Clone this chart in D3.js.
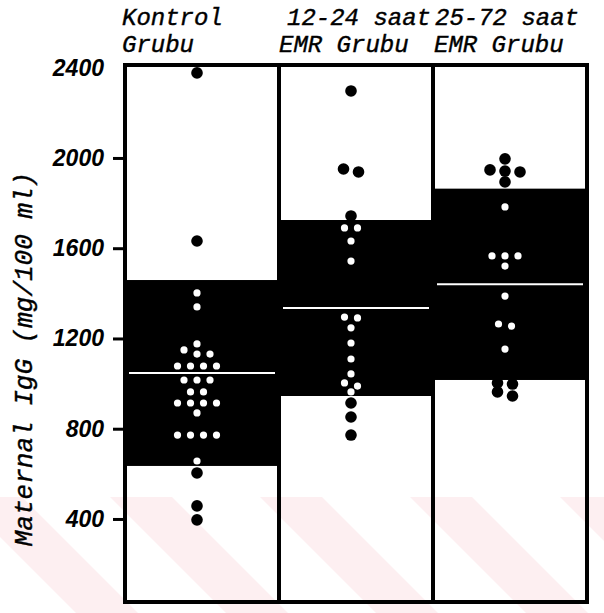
<!DOCTYPE html>
<html>
<head>
<meta charset="utf-8">
<script src="https://cdn.jsdelivr.net/npm/d3@7"></script>
<style>
  body { margin: 0; background: #fff; }
  svg { display: block; }
</style>
</head>
<body>
<div id="chart"></div>
<script>
// groups and header text
const groups = ["Kontrol Grubu", "12-24 saat EMR Grubu", "25-72 saat EMR Grubu"];
const headLine1 = ["Kontrol", "12-24 saat", "25-72 saat"];
const headLine2 = ["Grubu", "EMR Grubu", "EMR Grubu"];

// mean and standard deviation per group (mg/100 ml)
const means = [1047, 1335, 1440];
const sds = [412, 390, 424];

// individual values
const kontrol = [2377, 1632, 1402, 1340, 1176, 1149, 1131, 1131, 1078, 1078, 1078, 1078,
  1016, 1016, 1016, 963, 963, 914, 914, 914, 914, 870, 772, 772, 772, 772, 657, 604, 458, 396];
const emr1224 = [2297, 1951, 1938, 1743, 1690, 1690, 1632, 1543, 1295, 1291, 1247, 1180,
  1109, 1043, 1003, 989, 963, 914, 852, 772];
const emr2572 = [1996, 1947, 1942, 1938, 1894, 1783, 1566, 1566, 1566, 1521, 1388, 1264,
  1255, 1153, 1003, 998, 963, 945];
const values = [kontrol, emr1224, emr2572];

const yTicks = [400, 800, 1200, 1600, 2000, 2400];

const width = 604, height = 613;
const mono = "'Liberation Mono', 'DejaVu Sans Mono', monospace";

const svg = d3.select("#chart").append("svg")
  .attr("width", width)
  .attr("height", height);

// faint watermark stripes along the bottom
const wm = svg.append("g").attr("fill", "#fdeff1");
[-40, 110, 260, 410, 560].forEach(x0 => {
  wm.append("path")
    .attr("d", `M${x0},497 L${x0 + 62},497 L${x0 + 178},613 L${x0 + 116},613 Z`);
});

const x = d3.scaleBand().domain(groups).range([125, 587]);
const y = d3.scaleLinear().domain([32, 2412]).range([602, 65]);

// black mean +/- sd blocks
svg.selectAll("rect.sd")
  .data(groups)
  .enter().append("rect")
  .attr("class", "sd")
  .attr("x", d => x(d))
  .attr("width", x.bandwidth())
  .attr("y", (d, i) => y(means[i] + sds[i]))
  .attr("height", (d, i) => y(means[i] - sds[i]) - y(means[i] + sds[i]))
  .attr("fill", "#000");

// white mean lines
svg.selectAll("line.mean")
  .data(groups)
  .enter().append("line")
  .attr("x1", d => x(d) + 4)
  .attr("x2", d => x(d) + x.bandwidth() - 4)
  .attr("y1", (d, i) => y(means[i]))
  .attr("y2", (d, i) => y(means[i]))
  .attr("stroke", "#fff")
  .attr("stroke-width", 2);

// lay dots out in rows: near-equal values get spread sideways
function layout(vals, gi) {
  const lo = means[gi] - sds[gi], hi = means[gi] + sds[gi];
  const sorted = vals.slice().sort((a, b) => b - a);
  const rows = [];
  sorted.forEach(v => {
    const last = rows[rows.length - 1];
    if (last && Math.abs(last[0] - v) < 25) last.push(v);
    else rows.push([v]);
  });
  const cx = x(groups[gi]) + x.bandwidth() / 2 - 5;
  const pts = [];
  rows.forEach(r => {
    const inside = r.map(v => v >= lo && v <= hi);
    const step = inside.every(b => b) ? 13 : 15;
    r.forEach((v, i) => {
      pts.push({ v, inside: inside[i], cx: cx + (i - (r.length - 1) / 2) * step });
    });
  });
  return pts;
}

values.forEach((vals, gi) => {
  svg.append("g").selectAll("circle")
    .data(layout(vals, gi))
    .enter().append("circle")
    .attr("cx", d => d.cx)
    .attr("cy", d => y(d.v))
    .attr("r", d => d.inside ? 3.6 : 5.8)
    .attr("fill", d => d.inside ? "#fff" : "#000");
});

// frame and column dividers
svg.append("rect")
  .attr("x", 125).attr("y", 65)
  .attr("width", 462).attr("height", 537)
  .attr("fill", "none")
  .attr("stroke", "#000")
  .attr("stroke-width", 4);

svg.selectAll("line.div")
  .data(groups.slice(1))
  .enter().append("line")
  .attr("x1", d => x(d)).attr("x2", d => x(d))
  .attr("y1", 65).attr("y2", 602)
  .attr("stroke", "#000")
  .attr("stroke-width", 4);

// y axis
const axis = svg.append("g")
  .attr("transform", "translate(125,0)")
  .call(d3.axisLeft(y).tickValues(yTicks).tickFormat(d3.format("d"))
    .tickSize(12).tickPadding(9));
axis.select(".domain").remove();
axis.selectAll(".tick line").attr("stroke-width", 3)
  .attr("stroke-opacity", d => d === 2400 ? 0 : 1);
axis.selectAll(".tick text")
  .attr("font-family", "'Liberation Sans', Arial, sans-serif")
  .attr("font-style", "italic")
  .attr("font-weight", "bold")
  .attr("font-size", 23)
  .attr("fill", "#000");

// column headers
svg.selectAll("text.h1")
  .data(headLine1)
  .enter().append("text")
  .attr("x", (d, i) => [122, 287, 435][i])
  .attr("y", 25)
  .attr("font-family", mono)
  .attr("font-style", "italic")
  .attr("font-size", 24)
  .attr("stroke", "#000")
  .attr("stroke-width", 0.4)
  .text(d => d);

svg.selectAll("text.h2")
  .data(headLine2)
  .enter().append("text")
  .attr("x", (d, i) => [122, 279, 434][i])
  .attr("y", 52)
  .attr("font-family", mono)
  .attr("font-style", "italic")
  .attr("font-size", 24)
  .attr("stroke", "#000")
  .attr("stroke-width", 0.4)
  .text(d => d);

// y axis title
svg.append("text")
  .attr("transform", "translate(32,359) rotate(-90)")
  .attr("text-anchor", "middle")
  .attr("font-family", mono)
  .attr("font-style", "italic")
  .attr("font-size", 26)
  .attr("stroke", "#000")
  .attr("stroke-width", 0.4)
  .text("Maternal IgG (mg/100 ml)");
</script>
</body>
</html>
